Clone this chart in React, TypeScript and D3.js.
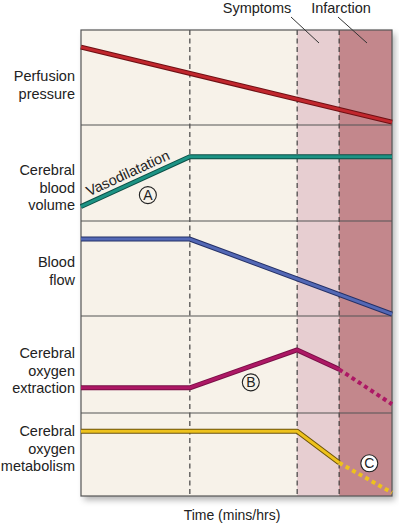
import React from "react";
import * as d3 from "d3";

// time axis runs 0..100, dashed dividers at these times
const phaseTimes = [35, 69.5, 83];
const phaseNames = ["Symptoms", "Infarction"];

const panelLabels = [
  ["Perfusion", "pressure"],
  ["Cerebral", "blood", "volume"],
  ["Blood", "flow"],
  ["Cerebral", "oxygen", "extraction"],
  ["Cerebral", "oxygen", "metabolism"],
];

// values are % of panel height
const perfusion = [{ t: 0, v: 82 }, { t: 100, v: 3 }];
const bloodVolume = [{ t: 0, v: 15 }, { t: 35, v: 67 }, { t: 100, v: 67 }];
const bloodFlow = [{ t: 0, v: 81 }, { t: 35, v: 81 }, { t: 100, v: 2 }];
const extraction = [{ t: 0, v: 26 }, { t: 35, v: 26 }, { t: 69.5, v: 65 }, { t: 83, v: 45 }];
const extractionDotted = [{ t: 83, v: 45 }, { t: 100, v: 9 }];
const metabolism = [{ t: 0, v: 78 }, { t: 69.5, v: 78 }, { t: 83, v: 40 }];
const metabolismDotted = [{ t: 83, v: 40 }, { t: 100, v: 4 }];

const markers = [
  { label: "A", panel: 1, t: 21.5, v: 27 },
  { label: "B", panel: 3, t: 54.6, v: 31.6 },
  { label: "C", panel: 4, t: 92.7, v: 39.4 },
];

const W = 399;
const H = 524;
const left = 81;
const right = 392;
const panelEdges = [30, 125, 221, 316, 413, 496];
const labelFirstBaseline = [81, 175, 267, 358, 436];
const font = "'Liberation Sans', Arial, Helvetica, sans-serif";

const x = d3.scaleLinear().domain([0, 100]).range([left, right]);
const yFor = (i: number) =>
  d3.scaleLinear().domain([0, 100]).range([panelEdges[i + 1], panelEdges[i]]);

type P = { t: number; v: number };
const pathFor = (pts: P[], i: number) => {
  const y = yFor(i);
  return d3
    .line<P>()
    .x((d) => x(d.t))
    .y((d) => y(d.v))(pts) as string;
};

const series = [
  { data: perfusion, panel: 0, color: "#c1272d", edge: "#6e1014" },
  { data: bloodVolume, panel: 1, color: "#1d9384", edge: "#0b4f46" },
  { data: bloodFlow, panel: 2, color: "#5368b5", edge: "#243066" },
  { data: extraction, panel: 3, color: "#ad1865", edge: "#7a0f46" },
  { data: metabolism, panel: 4, color: "#eec21c", edge: "#6b5208" },
];
const dotted = [
  { data: extractionDotted, panel: 3, color: "#ad1865" },
  { data: metabolismDotted, panel: 4, color: "#eec21c" },
];

export default function App() {
  const top = panelEdges[0];
  const bottom = panelEdges[panelEdges.length - 1];
  const xs = phaseTimes.map((t) => x(t));

  // Vasodilatation label along the rising teal segment
  const yv = yFor(1);
  const p0 = [x(bloodVolume[0].t), yv(bloodVolume[0].v)];
  const p1 = [x(bloodVolume[1].t), yv(bloodVolume[1].v)];
  const ang = (Math.atan2(p1[1] - p0[1], p1[0] - p0[0]) * 180) / Math.PI;
  const vt = 16.5;
  const vx = x(vt);
  const vy = yv(bloodVolume[0].v + ((bloodVolume[1].v - bloodVolume[0].v) * vt) / bloodVolume[1].t);

  return (
    <svg
      width={W}
      height={H}
      style={{ position: "absolute", left: 0, top: 0 }}
      fontFamily={font}
    >
      <defs>
        <filter id="shadow" x="-10%" y="-10%" width="130%" height="130%">
          <feDropShadow dx="3" dy="4" stdDeviation="3" floodColor="#000" floodOpacity="0.3" />
        </filter>
      </defs>
      <rect x={left} y={top} width={right - left} height={bottom - top} fill="#f7f2e9" filter="url(#shadow)" />
      <rect x={xs[1]} y={top} width={xs[2] - xs[1]} height={bottom - top} fill="#e7ced1" />
      <rect x={xs[2]} y={top} width={right - xs[2]} height={bottom - top} fill="#c3878c" />

      {xs.map((px, i) => (
        <line key={i} x1={px} x2={px} y1={top} y2={bottom} stroke="#333" strokeWidth={1.1} strokeDasharray="5 3.5" />
      ))}
      {panelEdges.slice(1, -1).map((py, i) => (
        <line key={i} x1={left} x2={right} y1={py} y2={py} stroke="#555" strokeWidth={1.2} />
      ))}
      <rect x={left} y={top} width={right - left} height={bottom - top} fill="none" stroke="#555" strokeWidth={1.2} />

      {dotted.map((s, i) => (
        <path key={i} d={pathFor(s.data, s.panel)} fill="none" stroke={s.color} strokeWidth={4} strokeDasharray="4 3.5" />
      ))}
      {series.map((s, i) => (
        <g key={i}>
          <path d={pathFor(s.data, s.panel)} fill="none" stroke={s.edge} strokeWidth={5} strokeLinejoin="round" />
          <path d={pathFor(s.data, s.panel)} fill="none" stroke={s.color} strokeWidth={3} strokeLinejoin="round" />
        </g>
      ))}

      {panelLabels.map((lines, i) => (
        <text key={i} textAnchor="end" fontSize={14.5} fill="#222">
          {lines.map((l, j) => (
            <tspan key={j} x={75} y={labelFirstBaseline[i] + j * 17.5}>
              {l}
            </tspan>
          ))}
        </text>
      ))}

      <text
        transform={`translate(${vx},${vy}) rotate(${ang}) translate(0,-6)`}
        textAnchor="middle"
        fontSize={14.5}
        fill="#222"
      >
        Vasodilatation
      </text>

      {markers.map((m) => {
        const cx = x(m.t);
        const cy = yFor(m.panel)(m.v);
        return (
          <g key={m.label}>
            <circle cx={cx} cy={cy} r={8.5} fill={m.label === "C" ? "#fff" : "none"} stroke="#222" strokeWidth={1.1} />
            <text x={cx} y={cy + 5} textAnchor="middle" fontSize={14} fill="#222">
              {m.label}
            </text>
          </g>
        );
      })}

      <text x={257} y={13} textAnchor="middle" fontSize={14.5} fill="#222">{phaseNames[0]}</text>
      <text x={341} y={13} textAnchor="middle" fontSize={14.5} fill="#222">{phaseNames[1]}</text>
      <line x1={291} y1={17} x2={319} y2={43} stroke="#333" strokeWidth={1} />
      <line x1={338} y1={17} x2={367} y2={43} stroke="#333" strokeWidth={1} />

      <text x={232} y={520} textAnchor="middle" fontSize={14} fill="#222">Time (mins/hrs)</text>
    </svg>
  );
}
